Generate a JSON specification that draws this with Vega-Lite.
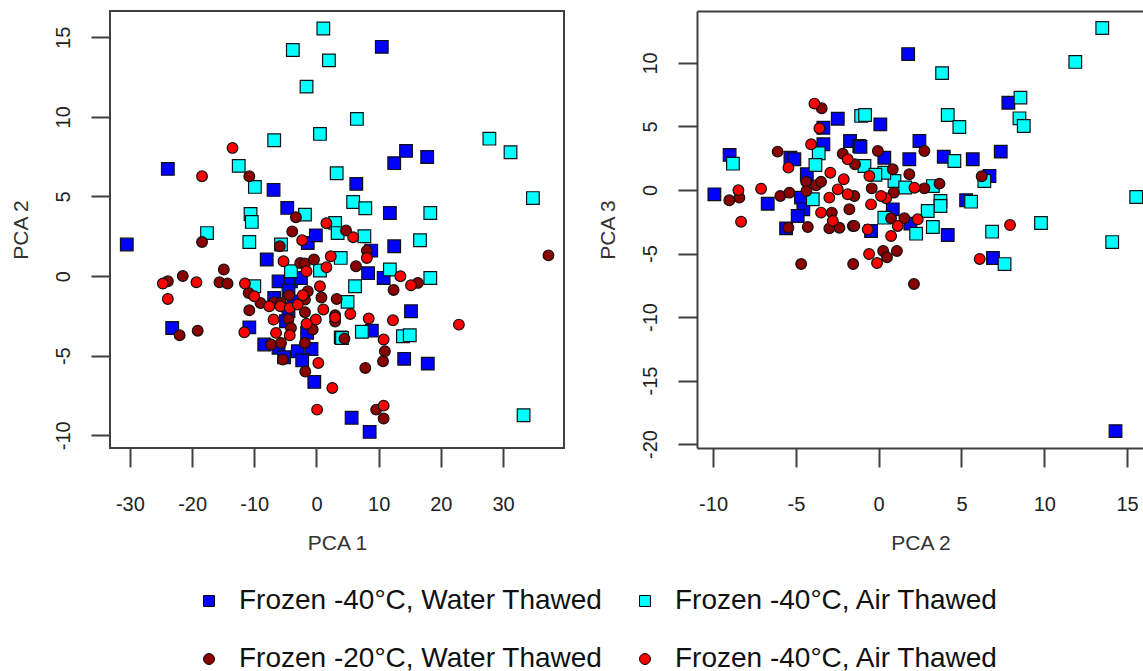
{
  "$schema": "https://vega.github.io/schema/vega-lite/v6.json",
  "background": "white",
  "padding": {"left": 8, "top": 10, "right": 0, "bottom": 0},
  "bounds": "flush",
  "spacing": 133,
  "config": {
    "font": "Liberation Sans",
    "view": {"stroke": "#404040", "strokeWidth": 2},
    "axis": {"grid": false, "domain": false, "tickSize": 19, "tickWidth": 2, "tickColor": "#404040", "labelFontSize": 20, "labelColor": "#222222", "titleFontSize": 21, "titleFontWeight": "normal", "titleColor": "#333333", "labelFont": "Liberation Sans", "titleFont": "Liberation Sans", "domainColor": "#404040", "domainWidth": 2, "labelExpr": "replace(datum.label, '\u2212', '-')"},
    "axisX": {"labelPadding": 27, "titlePadding": 18},
    "axisY": {"labelAngle": -90, "labelPadding": 18, "titlePadding": 22},
    "legend": {"orient": "none", "legendX": 85, "legendY": 576, "direction": "horizontal", "padding": 0, "columns": 2, "title": null, "labelFontSize": 28, "labelFont": "Liberation Sans", "labelColor": "#111111", "labelLimit": 600, "symbolSize": 120, "symbolStrokeColor": "black", "symbolStrokeWidth": 1, "columnPadding": 28, "rowPadding": 30, "labelOffset": 16}
  },
  "datasets": {
    "pc12": [
      {"group":"Frozen -40°C, Water Thawed","pca1":10.5,"pca2":14.4},
      {"group":"Frozen -40°C, Water Thawed","pca1":14.4,"pca2":7.86},
      {"group":"Frozen -40°C, Water Thawed","pca1":17.8,"pca2":7.48},
      {"group":"Frozen -40°C, Water Thawed","pca1":12.5,"pca2":7.09},
      {"group":"Frozen -40°C, Water Thawed","pca1":-23.9,"pca2":6.73},
      {"group":"Frozen -40°C, Water Thawed","pca1":-6.9,"pca2":5.41},
      {"group":"Frozen -40°C, Water Thawed","pca1":6.4,"pca2":5.79},
      {"group":"Frozen -40°C, Water Thawed","pca1":-4.7,"pca2":4.28},
      {"group":"Frozen -40°C, Water Thawed","pca1":11.8,"pca2":3.96},
      {"group":"Frozen -40°C, Water Thawed","pca1":-30.5,"pca2":1.98},
      {"group":"Frozen -40°C, Water Thawed","pca1":-1.4,"pca2":2.08},
      {"group":"Frozen -40°C, Water Thawed","pca1":-0.1,"pca2":2.56},
      {"group":"Frozen -40°C, Water Thawed","pca1":12.5,"pca2":1.87},
      {"group":"Frozen -40°C, Water Thawed","pca1":-8.0,"pca2":1.04},
      {"group":"Frozen -40°C, Water Thawed","pca1":8.8,"pca2":1.6},
      {"group":"Frozen -40°C, Water Thawed","pca1":8.3,"pca2":0.18},
      {"group":"Frozen -40°C, Water Thawed","pca1":10.8,"pca2":-0.12},
      {"group":"Frozen -40°C, Water Thawed","pca1":-6.1,"pca2":-0.33},
      {"group":"Frozen -40°C, Water Thawed","pca1":-4.1,"pca2":-0.33},
      {"group":"Frozen -40°C, Water Thawed","pca1":-2.5,"pca2":-0.12},
      {"group":"Frozen -40°C, Water Thawed","pca1":-4.5,"pca2":-0.91},
      {"group":"Frozen -40°C, Water Thawed","pca1":-6.8,"pca2":-1.37},
      {"group":"Frozen -40°C, Water Thawed","pca1":-3.6,"pca2":-1.6},
      {"group":"Frozen -40°C, Water Thawed","pca1":-4.5,"pca2":-2.2},
      {"group":"Frozen -40°C, Water Thawed","pca1":-4.9,"pca2":-2.84},
      {"group":"Frozen -40°C, Water Thawed","pca1":-23.2,"pca2":-3.26},
      {"group":"Frozen -40°C, Water Thawed","pca1":-10.8,"pca2":-3.22},
      {"group":"Frozen -40°C, Water Thawed","pca1":-1.5,"pca2":-3.57},
      {"group":"Frozen -40°C, Water Thawed","pca1":-8.4,"pca2":-4.3},
      {"group":"Frozen -40°C, Water Thawed","pca1":-6.1,"pca2":-4.5},
      {"group":"Frozen -40°C, Water Thawed","pca1":-3.0,"pca2":-4.72},
      {"group":"Frozen -40°C, Water Thawed","pca1":-0.8,"pca2":-4.58},
      {"group":"Frozen -40°C, Water Thawed","pca1":-5.2,"pca2":-5.1},
      {"group":"Frozen -40°C, Water Thawed","pca1":-2.3,"pca2":-5.3},
      {"group":"Frozen -40°C, Water Thawed","pca1":-0.35,"pca2":-6.65},
      {"group":"Frozen -40°C, Water Thawed","pca1":3.9,"pca2":-3.85},
      {"group":"Frozen -40°C, Water Thawed","pca1":8.9,"pca2":-3.43},
      {"group":"Frozen -40°C, Water Thawed","pca1":15.2,"pca2":-2.21},
      {"group":"Frozen -40°C, Water Thawed","pca1":14.1,"pca2":-5.2},
      {"group":"Frozen -40°C, Water Thawed","pca1":17.9,"pca2":-5.5},
      {"group":"Frozen -40°C, Water Thawed","pca1":5.65,"pca2":-8.9},
      {"group":"Frozen -40°C, Water Thawed","pca1":8.55,"pca2":-9.79},
      {"group":"Frozen -40°C, Air Thawed","pca1":1.1,"pca2":15.55},
      {"group":"Frozen -40°C, Air Thawed","pca1":-3.8,"pca2":14.2},
      {"group":"Frozen -40°C, Air Thawed","pca1":2.0,"pca2":13.55},
      {"group":"Frozen -40°C, Air Thawed","pca1":-1.6,"pca2":11.9},
      {"group":"Frozen -40°C, Air Thawed","pca1":6.5,"pca2":9.87},
      {"group":"Frozen -40°C, Air Thawed","pca1":0.56,"pca2":8.93},
      {"group":"Frozen -40°C, Air Thawed","pca1":-6.8,"pca2":8.53},
      {"group":"Frozen -40°C, Air Thawed","pca1":27.8,"pca2":8.63},
      {"group":"Frozen -40°C, Air Thawed","pca1":31.2,"pca2":7.78},
      {"group":"Frozen -40°C, Air Thawed","pca1":-12.5,"pca2":6.92},
      {"group":"Frozen -40°C, Air Thawed","pca1":-9.9,"pca2":5.6},
      {"group":"Frozen -40°C, Air Thawed","pca1":3.25,"pca2":6.46},
      {"group":"Frozen -40°C, Air Thawed","pca1":34.8,"pca2":4.9},
      {"group":"Frozen -40°C, Air Thawed","pca1":5.9,"pca2":4.65},
      {"group":"Frozen -40°C, Air Thawed","pca1":7.85,"pca2":4.26},
      {"group":"Frozen -40°C, Air Thawed","pca1":18.3,"pca2":3.96},
      {"group":"Frozen -40°C, Air Thawed","pca1":-1.85,"pca2":3.86},
      {"group":"Frozen -40°C, Air Thawed","pca1":-10.6,"pca2":3.9},
      {"group":"Frozen -40°C, Air Thawed","pca1":-10.4,"pca2":3.4},
      {"group":"Frozen -40°C, Air Thawed","pca1":3.0,"pca2":3.34},
      {"group":"Frozen -40°C, Air Thawed","pca1":-17.6,"pca2":2.7},
      {"group":"Frozen -40°C, Air Thawed","pca1":-10.8,"pca2":2.14},
      {"group":"Frozen -40°C, Air Thawed","pca1":-5.7,"pca2":1.98},
      {"group":"Frozen -40°C, Air Thawed","pca1":3.4,"pca2":2.7},
      {"group":"Frozen -40°C, Air Thawed","pca1":7.7,"pca2":2.5},
      {"group":"Frozen -40°C, Air Thawed","pca1":16.65,"pca2":2.25},
      {"group":"Frozen -40°C, Air Thawed","pca1":3.9,"pca2":1.14},
      {"group":"Frozen -40°C, Air Thawed","pca1":-4.1,"pca2":0.3},
      {"group":"Frozen -40°C, Air Thawed","pca1":0.56,"pca2":0.35},
      {"group":"Frozen -40°C, Air Thawed","pca1":11.8,"pca2":0.41},
      {"group":"Frozen -40°C, Air Thawed","pca1":18.3,"pca2":-0.12},
      {"group":"Frozen -40°C, Air Thawed","pca1":6.2,"pca2":-0.64},
      {"group":"Frozen -40°C, Air Thawed","pca1":-10.0,"pca2":-0.64},
      {"group":"Frozen -40°C, Air Thawed","pca1":5.0,"pca2":-1.62},
      {"group":"Frozen -40°C, Air Thawed","pca1":4.1,"pca2":-3.89},
      {"group":"Frozen -40°C, Air Thawed","pca1":7.3,"pca2":-3.5},
      {"group":"Frozen -40°C, Air Thawed","pca1":13.9,"pca2":-3.78},
      {"group":"Frozen -40°C, Air Thawed","pca1":15.0,"pca2":-3.72},
      {"group":"Frozen -40°C, Air Thawed","pca1":33.3,"pca2":-8.74},
      {"group":"Frozen -20°C, Water Thawed","pca1":-10.8,"pca2":6.27},
      {"group":"Frozen -20°C, Water Thawed","pca1":-3.3,"pca2":3.7},
      {"group":"Frozen -20°C, Water Thawed","pca1":4.75,"pca2":2.86},
      {"group":"Frozen -20°C, Water Thawed","pca1":-3.9,"pca2":2.8},
      {"group":"Frozen -20°C, Water Thawed","pca1":-18.4,"pca2":2.14},
      {"group":"Frozen -20°C, Water Thawed","pca1":-5.9,"pca2":1.87},
      {"group":"Frozen -20°C, Water Thawed","pca1":37.3,"pca2":1.3},
      {"group":"Frozen -20°C, Water Thawed","pca1":-2.6,"pca2":0.82},
      {"group":"Frozen -20°C, Water Thawed","pca1":-1.85,"pca2":0.79},
      {"group":"Frozen -20°C, Water Thawed","pca1":-0.4,"pca2":1.04},
      {"group":"Frozen -20°C, Water Thawed","pca1":8.1,"pca2":1.6},
      {"group":"Frozen -20°C, Water Thawed","pca1":6.35,"pca2":0.62},
      {"group":"Frozen -20°C, Water Thawed","pca1":16.3,"pca2":-0.43},
      {"group":"Frozen -20°C, Water Thawed","pca1":12.4,"pca2":-0.87},
      {"group":"Frozen -20°C, Water Thawed","pca1":-23.9,"pca2":-0.33},
      {"group":"Frozen -20°C, Water Thawed","pca1":-21.5,"pca2":0.0},
      {"group":"Frozen -20°C, Water Thawed","pca1":-14.9,"pca2":0.41},
      {"group":"Frozen -20°C, Water Thawed","pca1":-15.6,"pca2":-0.39},
      {"group":"Frozen -20°C, Water Thawed","pca1":-14.3,"pca2":-0.47},
      {"group":"Frozen -20°C, Water Thawed","pca1":-10.9,"pca2":-1.06},
      {"group":"Frozen -20°C, Water Thawed","pca1":-9.0,"pca2":-1.69},
      {"group":"Frozen -20°C, Water Thawed","pca1":-6.8,"pca2":-1.65},
      {"group":"Frozen -20°C, Water Thawed","pca1":-5.7,"pca2":-1.69},
      {"group":"Frozen -20°C, Water Thawed","pca1":-4.4,"pca2":-1.2},
      {"group":"Frozen -20°C, Water Thawed","pca1":-10.8,"pca2":-2.15},
      {"group":"Frozen -20°C, Water Thawed","pca1":-4.5,"pca2":-2.71},
      {"group":"Frozen -20°C, Water Thawed","pca1":-1.85,"pca2":-2.27},
      {"group":"Frozen -20°C, Water Thawed","pca1":-1.4,"pca2":-0.95},
      {"group":"Frozen -20°C, Water Thawed","pca1":-1.85,"pca2":-1.48},
      {"group":"Frozen -20°C, Water Thawed","pca1":0.8,"pca2":-1.35},
      {"group":"Frozen -20°C, Water Thawed","pca1":3.25,"pca2":-1.44},
      {"group":"Frozen -20°C, Water Thawed","pca1":3.0,"pca2":-2.46},
      {"group":"Frozen -20°C, Water Thawed","pca1":3.0,"pca2":-2.85},
      {"group":"Frozen -20°C, Water Thawed","pca1":-0.6,"pca2":-3.36},
      {"group":"Frozen -20°C, Water Thawed","pca1":-22.0,"pca2":-3.72},
      {"group":"Frozen -20°C, Water Thawed","pca1":-19.1,"pca2":-3.43},
      {"group":"Frozen -20°C, Water Thawed","pca1":-4.1,"pca2":-3.26},
      {"group":"Frozen -20°C, Water Thawed","pca1":-7.3,"pca2":-4.3},
      {"group":"Frozen -20°C, Water Thawed","pca1":-5.7,"pca2":-4.2},
      {"group":"Frozen -20°C, Water Thawed","pca1":-1.85,"pca2":-4.2},
      {"group":"Frozen -20°C, Water Thawed","pca1":-5.4,"pca2":-5.25},
      {"group":"Frozen -20°C, Water Thawed","pca1":-1.8,"pca2":-6.0},
      {"group":"Frozen -20°C, Water Thawed","pca1":4.5,"pca2":-3.93},
      {"group":"Frozen -20°C, Water Thawed","pca1":11.0,"pca2":-4.72},
      {"group":"Frozen -20°C, Water Thawed","pca1":10.7,"pca2":-5.35},
      {"group":"Frozen -20°C, Water Thawed","pca1":7.85,"pca2":-5.77},
      {"group":"Frozen -20°C, Water Thawed","pca1":9.6,"pca2":-8.39},
      {"group":"Frozen -20°C, Water Thawed","pca1":10.8,"pca2":-8.95},
      {"group":"Frozen -20°C, Air Thawed","pca1":-13.5,"pca2":8.05},
      {"group":"Frozen -20°C, Air Thawed","pca1":-18.4,"pca2":6.27},
      {"group":"Frozen -20°C, Air Thawed","pca1":1.6,"pca2":3.32},
      {"group":"Frozen -20°C, Air Thawed","pca1":-2.3,"pca2":2.25},
      {"group":"Frozen -20°C, Air Thawed","pca1":5.9,"pca2":2.44},
      {"group":"Frozen -20°C, Air Thawed","pca1":-5.3,"pca2":0.93},
      {"group":"Frozen -20°C, Air Thawed","pca1":-1.6,"pca2":0.3},
      {"group":"Frozen -20°C, Air Thawed","pca1":1.6,"pca2":0.55},
      {"group":"Frozen -20°C, Air Thawed","pca1":2.3,"pca2":1.24},
      {"group":"Frozen -20°C, Air Thawed","pca1":8.1,"pca2":1.14},
      {"group":"Frozen -20°C, Air Thawed","pca1":13.5,"pca2":-0.01},
      {"group":"Frozen -20°C, Air Thawed","pca1":15.2,"pca2":-0.58},
      {"group":"Frozen -20°C, Air Thawed","pca1":-24.7,"pca2":-0.47},
      {"group":"Frozen -20°C, Air Thawed","pca1":-19.3,"pca2":-0.39},
      {"group":"Frozen -20°C, Air Thawed","pca1":-11.5,"pca2":-0.47},
      {"group":"Frozen -20°C, Air Thawed","pca1":-23.9,"pca2":-1.44},
      {"group":"Frozen -20°C, Air Thawed","pca1":-10.0,"pca2":-1.27},
      {"group":"Frozen -20°C, Air Thawed","pca1":-7.6,"pca2":-1.9},
      {"group":"Frozen -20°C, Air Thawed","pca1":-5.8,"pca2":-1.9},
      {"group":"Frozen -20°C, Air Thawed","pca1":-4.3,"pca2":-2.0},
      {"group":"Frozen -20°C, Air Thawed","pca1":-3.0,"pca2":-1.79},
      {"group":"Frozen -20°C, Air Thawed","pca1":-2.2,"pca2":-1.2},
      {"group":"Frozen -20°C, Air Thawed","pca1":0.56,"pca2":-0.64},
      {"group":"Frozen -20°C, Air Thawed","pca1":1.1,"pca2":-2.1},
      {"group":"Frozen -20°C, Air Thawed","pca1":5.45,"pca2":-2.38},
      {"group":"Frozen -20°C, Air Thawed","pca1":3.0,"pca2":-2.6},
      {"group":"Frozen -20°C, Air Thawed","pca1":-0.1,"pca2":-2.73},
      {"group":"Frozen -20°C, Air Thawed","pca1":-1.6,"pca2":-3.0},
      {"group":"Frozen -20°C, Air Thawed","pca1":-6.9,"pca2":-2.73},
      {"group":"Frozen -20°C, Air Thawed","pca1":-11.6,"pca2":-3.53},
      {"group":"Frozen -20°C, Air Thawed","pca1":-6.5,"pca2":-3.57},
      {"group":"Frozen -20°C, Air Thawed","pca1":-4.3,"pca2":-3.72},
      {"group":"Frozen -20°C, Air Thawed","pca1":0.3,"pca2":-5.46},
      {"group":"Frozen -20°C, Air Thawed","pca1":2.55,"pca2":-7.03},
      {"group":"Frozen -20°C, Air Thawed","pca1":8.4,"pca2":-2.67},
      {"group":"Frozen -20°C, Air Thawed","pca1":12.3,"pca2":-2.78},
      {"group":"Frozen -20°C, Air Thawed","pca1":10.8,"pca2":-3.99},
      {"group":"Frozen -20°C, Air Thawed","pca1":22.9,"pca2":-3.05},
      {"group":"Frozen -20°C, Air Thawed","pca1":0.1,"pca2":-8.39},
      {"group":"Frozen -20°C, Air Thawed","pca1":10.8,"pca2":-8.14}
    ],
    "pc23": [
      {"group":"Frozen -40°C, Water Thawed","pca2":-2.47,"pca3":5.61},
      {"group":"Frozen -40°C, Water Thawed","pca2":-3.34,"pca3":4.9},
      {"group":"Frozen -40°C, Water Thawed","pca2":-3.34,"pca3":3.6},
      {"group":"Frozen -40°C, Water Thawed","pca2":-1.73,"pca3":3.86},
      {"group":"Frozen -40°C, Water Thawed","pca2":-1.17,"pca3":3.46},
      {"group":"Frozen -40°C, Water Thawed","pca2":-5.33,"pca3":2.54},
      {"group":"Frozen -40°C, Water Thawed","pca2":-5.09,"pca3":2.42},
      {"group":"Frozen -40°C, Water Thawed","pca2":-9.0,"pca3":2.76},
      {"group":"Frozen -40°C, Water Thawed","pca2":-4.34,"pca3":1.24},
      {"group":"Frozen -40°C, Water Thawed","pca2":-4.69,"pca3":-0.6},
      {"group":"Frozen -40°C, Water Thawed","pca2":-4.55,"pca3":-1.52},
      {"group":"Frozen -40°C, Water Thawed","pca2":-4.89,"pca3":-2.05},
      {"group":"Frozen -40°C, Water Thawed","pca2":-9.92,"pca3":-0.34},
      {"group":"Frozen -40°C, Water Thawed","pca2":-6.7,"pca3":-1.08},
      {"group":"Frozen -40°C, Water Thawed","pca2":-5.59,"pca3":-3.02},
      {"group":"Frozen -40°C, Water Thawed","pca2":0.1,"pca3":5.17},
      {"group":"Frozen -40°C, Water Thawed","pca2":7.83,"pca3":6.87},
      {"group":"Frozen -40°C, Water Thawed","pca2":2.46,"pca3":3.86},
      {"group":"Frozen -40°C, Water Thawed","pca2":3.93,"pca3":2.62},
      {"group":"Frozen -40°C, Water Thawed","pca2":5.68,"pca3":2.42},
      {"group":"Frozen -40°C, Water Thawed","pca2":7.37,"pca3":3.02},
      {"group":"Frozen -40°C, Water Thawed","pca2":1.85,"pca3":2.42},
      {"group":"Frozen -40°C, Water Thawed","pca2":6.69,"pca3":1.1},
      {"group":"Frozen -40°C, Water Thawed","pca2":5.28,"pca3":-0.81},
      {"group":"Frozen -40°C, Water Thawed","pca2":4.17,"pca3":-3.54},
      {"group":"Frozen -40°C, Water Thawed","pca2":-1.1,"pca3":3.39},
      {"group":"Frozen -40°C, Water Thawed","pca2":0.34,"pca3":2.54},
      {"group":"Frozen -40°C, Water Thawed","pca2":0.85,"pca3":-1.52},
      {"group":"Frozen -40°C, Water Thawed","pca2":1.91,"pca3":-2.65},
      {"group":"Frozen -40°C, Water Thawed","pca2":-0.46,"pca3":-3.23},
      {"group":"Frozen -40°C, Water Thawed","pca2":6.9,"pca3":-5.35},
      {"group":"Frozen -40°C, Water Thawed","pca2":14.3,"pca3":-18.98},
      {"group":"Frozen -40°C, Water Thawed","pca2":1.78,"pca3":10.7},
      {"group":"Frozen -40°C, Air Thawed","pca2":-1.06,"pca3":5.83},
      {"group":"Frozen -40°C, Air Thawed","pca2":-3.62,"pca3":2.89},
      {"group":"Frozen -40°C, Air Thawed","pca2":-8.8,"pca3":2.07},
      {"group":"Frozen -40°C, Air Thawed","pca2":-3.82,"pca3":1.97},
      {"group":"Frozen -40°C, Air Thawed","pca2":-3.98,"pca3":-0.73},
      {"group":"Frozen -40°C, Air Thawed","pca2":-0.82,"pca3":5.9},
      {"group":"Frozen -40°C, Air Thawed","pca2":4.17,"pca3":5.9},
      {"group":"Frozen -40°C, Air Thawed","pca2":4.87,"pca3":4.96},
      {"group":"Frozen -40°C, Air Thawed","pca2":8.56,"pca3":7.27},
      {"group":"Frozen -40°C, Air Thawed","pca2":8.5,"pca3":5.64},
      {"group":"Frozen -40°C, Air Thawed","pca2":8.76,"pca3":5.04},
      {"group":"Frozen -40°C, Air Thawed","pca2":4.57,"pca3":2.28},
      {"group":"Frozen -40°C, Air Thawed","pca2":6.38,"pca3":0.71},
      {"group":"Frozen -40°C, Air Thawed","pca2":5.58,"pca3":-0.92},
      {"group":"Frozen -40°C, Air Thawed","pca2":6.85,"pca3":-3.28},
      {"group":"Frozen -40°C, Air Thawed","pca2":3.27,"pca3":-2.91},
      {"group":"Frozen -40°C, Air Thawed","pca2":2.26,"pca3":-3.44},
      {"group":"Frozen -40°C, Air Thawed","pca2":3.73,"pca3":-0.87},
      {"group":"Frozen -40°C, Air Thawed","pca2":3.73,"pca3":-1.26},
      {"group":"Frozen -40°C, Air Thawed","pca2":2.96,"pca3":-1.65},
      {"group":"Frozen -40°C, Air Thawed","pca2":3.27,"pca3":0.31},
      {"group":"Frozen -40°C, Air Thawed","pca2":0.95,"pca3":0.71},
      {"group":"Frozen -40°C, Air Thawed","pca2":0.34,"pca3":1.36},
      {"group":"Frozen -40°C, Air Thawed","pca2":-0.86,"pca3":1.89},
      {"group":"Frozen -40°C, Air Thawed","pca2":0.34,"pca3":-2.18},
      {"group":"Frozen -40°C, Air Thawed","pca2":7.6,"pca3":-5.83},
      {"group":"Frozen -40°C, Air Thawed","pca2":9.8,"pca3":-2.6},
      {"group":"Frozen -40°C, Air Thawed","pca2":14.1,"pca3":-4.1},
      {"group":"Frozen -40°C, Air Thawed","pca2":15.55,"pca3":-0.55},
      {"group":"Frozen -40°C, Air Thawed","pca2":13.5,"pca3":12.75},
      {"group":"Frozen -40°C, Air Thawed","pca2":11.87,"pca3":10.08},
      {"group":"Frozen -40°C, Air Thawed","pca2":3.83,"pca3":9.2},
      {"group":"Frozen -40°C, Air Thawed","pca2":1.6,"pca3":0.2},
      {"group":"Frozen -40°C, Air Thawed","pca2":-0.2,"pca3":1.2},
      {"group":"Frozen -20°C, Water Thawed","pca2":-3.44,"pca3":6.43},
      {"group":"Frozen -20°C, Water Thawed","pca2":-2.17,"pca3":2.86},
      {"group":"Frozen -20°C, Water Thawed","pca2":-1.43,"pca3":2.02},
      {"group":"Frozen -20°C, Water Thawed","pca2":-6.1,"pca3":3.02},
      {"group":"Frozen -20°C, Water Thawed","pca2":-4.38,"pca3":0.65},
      {"group":"Frozen -20°C, Water Thawed","pca2":-3.78,"pca3":0.37},
      {"group":"Frozen -20°C, Water Thawed","pca2":-3.48,"pca3":0.65},
      {"group":"Frozen -20°C, Water Thawed","pca2":-4.36,"pca3":-0.08},
      {"group":"Frozen -20°C, Water Thawed","pca2":-1.47,"pca3":-0.47},
      {"group":"Frozen -20°C, Water Thawed","pca2":-2.83,"pca3":-1.78},
      {"group":"Frozen -20°C, Water Thawed","pca2":-1.77,"pca3":-1.52},
      {"group":"Frozen -20°C, Water Thawed","pca2":-8.41,"pca3":-0.6},
      {"group":"Frozen -20°C, Water Thawed","pca2":-9.02,"pca3":-0.81},
      {"group":"Frozen -20°C, Water Thawed","pca2":-5.94,"pca3":-0.47},
      {"group":"Frozen -20°C, Water Thawed","pca2":-5.39,"pca3":-0.21},
      {"group":"Frozen -20°C, Water Thawed","pca2":-5.45,"pca3":-2.97},
      {"group":"Frozen -20°C, Water Thawed","pca2":-4.28,"pca3":-2.91},
      {"group":"Frozen -20°C, Water Thawed","pca2":-2.98,"pca3":-3.02},
      {"group":"Frozen -20°C, Water Thawed","pca2":-2.37,"pca3":-2.97},
      {"group":"Frozen -20°C, Water Thawed","pca2":-1.56,"pca3":-2.83},
      {"group":"Frozen -20°C, Water Thawed","pca2":2.76,"pca3":3.07},
      {"group":"Frozen -20°C, Water Thawed","pca2":6.22,"pca3":1.08},
      {"group":"Frozen -20°C, Water Thawed","pca2":3.67,"pca3":0.5},
      {"group":"Frozen -20°C, Water Thawed","pca2":2.76,"pca3":0.13},
      {"group":"Frozen -20°C, Water Thawed","pca2":1.85,"pca3":1.24},
      {"group":"Frozen -20°C, Water Thawed","pca2":0.85,"pca3":1.63},
      {"group":"Frozen -20°C, Water Thawed","pca2":-0.05,"pca3":3.07},
      {"group":"Frozen -20°C, Water Thawed","pca2":-0.42,"pca3":0.13},
      {"group":"Frozen -20°C, Water Thawed","pca2":0.91,"pca3":-0.21},
      {"group":"Frozen -20°C, Water Thawed","pca2":0.75,"pca3":-2.23},
      {"group":"Frozen -20°C, Water Thawed","pca2":1.55,"pca3":-2.23},
      {"group":"Frozen -20°C, Water Thawed","pca2":-1.47,"pca3":-2.83},
      {"group":"Frozen -20°C, Water Thawed","pca2":-4.68,"pca3":-5.83},
      {"group":"Frozen -20°C, Water Thawed","pca2":-1.54,"pca3":-5.83},
      {"group":"Frozen -20°C, Water Thawed","pca2":0.27,"pca3":-4.8},
      {"group":"Frozen -20°C, Water Thawed","pca2":0.5,"pca3":-5.3},
      {"group":"Frozen -20°C, Water Thawed","pca2":1.1,"pca3":-4.8},
      {"group":"Frozen -20°C, Water Thawed","pca2":2.13,"pca3":-7.4},
      {"group":"Frozen -20°C, Air Thawed","pca2":-3.88,"pca3":6.8},
      {"group":"Frozen -20°C, Air Thawed","pca2":-3.58,"pca3":4.86},
      {"group":"Frozen -20°C, Air Thawed","pca2":-4.08,"pca3":3.6},
      {"group":"Frozen -20°C, Air Thawed","pca2":-1.87,"pca3":2.42},
      {"group":"Frozen -20°C, Air Thawed","pca2":-5.45,"pca3":1.76},
      {"group":"Frozen -20°C, Air Thawed","pca2":-2.92,"pca3":1.36},
      {"group":"Frozen -20°C, Air Thawed","pca2":-2.11,"pca3":0.84},
      {"group":"Frozen -20°C, Air Thawed","pca2":-2.98,"pca3":-0.6},
      {"group":"Frozen -20°C, Air Thawed","pca2":-2.47,"pca3":0.05},
      {"group":"Frozen -20°C, Air Thawed","pca2":-1.87,"pca3":-0.34},
      {"group":"Frozen -20°C, Air Thawed","pca2":-3.48,"pca3":-1.78},
      {"group":"Frozen -20°C, Air Thawed","pca2":-2.77,"pca3":-2.44},
      {"group":"Frozen -20°C, Air Thawed","pca2":-7.1,"pca3":0.1},
      {"group":"Frozen -20°C, Air Thawed","pca2":-8.47,"pca3":-0.02},
      {"group":"Frozen -20°C, Air Thawed","pca2":-8.31,"pca3":-2.5},
      {"group":"Frozen -20°C, Air Thawed","pca2":7.93,"pca3":-2.76},
      {"group":"Frozen -20°C, Air Thawed","pca2":2.16,"pca3":0.18},
      {"group":"Frozen -20°C, Air Thawed","pca2":-0.56,"pca3":1.1},
      {"group":"Frozen -20°C, Air Thawed","pca2":-0.46,"pca3":-1.13},
      {"group":"Frozen -20°C, Air Thawed","pca2":0.45,"pca3":-0.65},
      {"group":"Frozen -20°C, Air Thawed","pca2":0.14,"pca3":-0.47},
      {"group":"Frozen -20°C, Air Thawed","pca2":2.36,"pca3":-2.31},
      {"group":"Frozen -20°C, Air Thawed","pca2":0.75,"pca3":-3.62},
      {"group":"Frozen -20°C, Air Thawed","pca2":1.15,"pca3":-2.83},
      {"group":"Frozen -20°C, Air Thawed","pca2":-0.66,"pca3":-3.1},
      {"group":"Frozen -20°C, Air Thawed","pca2":-0.58,"pca3":-5.04},
      {"group":"Frozen -20°C, Air Thawed","pca2":-0.1,"pca3":-5.75},
      {"group":"Frozen -20°C, Air Thawed","pca2":6.1,"pca3":-5.43}
    ]
  },
  "hconcat": [
    {
      "width": 454,
      "height": 437,
      "data": {"name": "pc12"},
      "encoding": {
        "x": {"field": "pca1", "type": "quantitative", "scale": {"domain": [-33.2, 39.8], "nice": false, "zero": false}, "axis": {"values": [-30, -20, -10, 0, 10, 20, 30], "title": "PCA 1"}},
        "y": {"field": "pca2", "type": "quantitative", "scale": {"domain": [-10.8, 16.65], "nice": false, "zero": false}, "axis": {"values": [-10, -5, 0, 5, 10, 15], "title": "PCA 2"}},
        "color": {"field": "group", "type": "nominal", "scale": {"domain": ["Frozen -40°C, Water Thawed", "Frozen -40°C, Air Thawed", "Frozen -20°C, Water Thawed", "Frozen -20°C, Air Thawed"], "range": ["#0000ff", "#00ffff", "#8b0000", "#ff0000"]}, "legend": {"labelExpr": "datum.label == 'Frozen -20°C, Air Thawed' ? 'Frozen -40°C, Air Thawed' : datum.label"}},
        "shape": {"field": "group", "type": "nominal", "scale": {"domain": ["Frozen -40°C, Water Thawed", "Frozen -40°C, Air Thawed", "Frozen -20°C, Water Thawed", "Frozen -20°C, Air Thawed"], "range": ["square", "square", "circle", "circle"]}, "legend": {"labelExpr": "datum.label == 'Frozen -20°C, Air Thawed' ? 'Frozen -40°C, Air Thawed' : datum.label"}}
      },
      "layer": [
        {"transform": [{"filter": {"field": "group", "oneOf": ["Frozen -40°C, Water Thawed", "Frozen -40°C, Air Thawed"]}}], "mark": {"type": "point", "filled": true, "opacity": 1, "stroke": "#111111", "strokeWidth": 1.2, "size": 160}},
        {"transform": [{"filter": {"field": "group", "oneOf": ["Frozen -20°C, Water Thawed", "Frozen -20°C, Air Thawed"]}}], "mark": {"type": "point", "filled": true, "opacity": 1, "stroke": "#111111", "strokeWidth": 1.2, "size": 115}}
      ]
    },
    {
      "width": 447,
      "height": 437,
      "data": {"name": "pc23"},
      "view": {"stroke": null},
      "layer": [
        {
          "encoding": {
            "x": {"field": "pca2", "type": "quantitative", "scale": {"domain": [-10.97, 16.02], "nice": false, "zero": false}, "axis": {"orient": "bottom", "values": [-10, -5, 0, 5, 10, 15], "title": "PCA 2", "domain": true}},
            "y": {"field": "pca3", "type": "quantitative", "scale": {"domain": [-20.31, 14.09], "nice": false, "zero": false}, "axis": {"values": [-20, -15, -10, -5, 0, 5, 10], "title": "PCA 3", "domain": true}},
            "color": {"field": "group", "type": "nominal", "scale": {"domain": ["Frozen -40°C, Water Thawed", "Frozen -40°C, Air Thawed", "Frozen -20°C, Water Thawed", "Frozen -20°C, Air Thawed"], "range": ["#0000ff", "#00ffff", "#8b0000", "#ff0000"]}, "legend": {"labelExpr": "datum.label == 'Frozen -20°C, Air Thawed' ? 'Frozen -40°C, Air Thawed' : datum.label"}},
            "shape": {"field": "group", "type": "nominal", "scale": {"domain": ["Frozen -40°C, Water Thawed", "Frozen -40°C, Air Thawed", "Frozen -20°C, Water Thawed", "Frozen -20°C, Air Thawed"], "range": ["square", "square", "circle", "circle"]}, "legend": {"labelExpr": "datum.label == 'Frozen -20°C, Air Thawed' ? 'Frozen -40°C, Air Thawed' : datum.label"}}
          },
          "layer": [
            {"transform": [{"filter": {"field": "group", "oneOf": ["Frozen -40°C, Water Thawed", "Frozen -40°C, Air Thawed"]}}], "mark": {"type": "point", "filled": true, "opacity": 1, "stroke": "#111111", "strokeWidth": 1.2, "size": 160}},
            {"transform": [{"filter": {"field": "group", "oneOf": ["Frozen -20°C, Water Thawed", "Frozen -20°C, Air Thawed"]}}], "mark": {"type": "point", "filled": true, "opacity": 1, "stroke": "#111111", "strokeWidth": 1.2, "size": 115}}
          ]
        },
        {
          "mark": {"type": "point", "opacity": 0},
          "encoding": {
            "x": {"field": "pca2", "type": "quantitative", "scale": {"domain": [-10.97, 16.02], "nice": false, "zero": false}, "axis": {"orient": "top", "labels": false, "ticks": false, "title": null, "domain": true}}
          }
        }
      ],
      "resolve": {"axis": {"x": "independent"}}
    }
  ]
}
